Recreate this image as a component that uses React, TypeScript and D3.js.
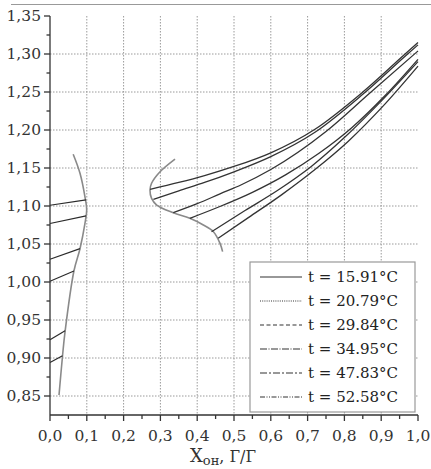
import React from "react";
import * as d3 from "d3";

type P = [number, number];

const legendLabels = ["t = 15.91°C", "t = 20.79°C", "t = 29.84°C", "t = 34.95°C", "t = 47.83°C", "t = 52.58°C"];
const dashes = ["", "1,1.2", "4,2.5", "7,1.5,1,1.5", "7,2,2,2", "5,1.5,1,1.5,1,1.5"];

// left binodal branch (x, y)
const leftBinodal: P[] = [
  [0.0245, 0.8513], [0.034, 0.9026], [0.041, 0.935], [0.065, 1.0145], [0.0815, 1.0438],
  [0.095, 1.0772], [0.0997, 1.0947], [0.095, 1.112], [0.0815, 1.143], [0.063, 1.168],
];
// middle binodal branch
const midBinodal: P[] = [
  [0.3397, 1.1618], [0.299, 1.1451], [0.276, 1.1299], [0.2717, 1.121], [0.276, 1.11],
  [0.29, 1.1013], [0.335, 1.0912], [0.38, 1.0838], [0.4167, 1.075], [0.444, 1.0662],
  [0.462, 1.0509], [0.469, 1.04],
];
// tie lines on the left (x=0 to left branch)
const leftTies: P[][] = [
  [[0, 1.101], [0.098, 1.108]],
  [[0, 1.077], [0.098, 1.087]],
  [[0, 1.030], [0.0815, 1.044]],
  [[0, 1.001], [0.065, 1.0145]],
  [[0, 0.924], [0.041, 0.936]],
  [[0, 0.894], [0.034, 0.903]],
];
// curves from middle branch to x=1
const series1: P[] = [[0.272, 1.122], [0.35, 1.131], [0.42, 1.140], [0.5, 1.152], [0.6, 1.170], [0.72, 1.201], [0.85, 1.250], [0.965, 1.300], [1.0, 1.315]];
const series2: P[] = [[0.281, 1.1088], [0.35, 1.120], [0.42, 1.131], [0.5, 1.145], [0.6, 1.165], [0.72, 1.197], [0.85, 1.247], [0.965, 1.297], [1.0, 1.312]];
const series3: P[] = [[0.335, 1.0912], [0.4, 1.103], [0.462, 1.116], [0.52, 1.128], [0.6, 1.148], [0.75, 1.198], [0.87, 1.249], [1.0, 1.304]];
const series4: P[] = [[0.38, 1.0838], [0.46, 1.099], [0.55, 1.118], [0.64, 1.141], [0.73, 1.169], [0.82, 1.203], [0.91, 1.245], [1.0, 1.293]];
const series5: P[] = [[0.439, 1.0662], [0.53, 1.094], [0.62, 1.121], [0.71, 1.152], [0.80, 1.190], [0.90, 1.238], [1.0, 1.290]];
const series6: P[] = [[0.457, 1.0575], [0.54, 1.085], [0.63, 1.115], [0.72, 1.148], [0.81, 1.185], [0.91, 1.234], [1.0, 1.284]];
const rightCurves = [series1, series2, series3, series4, series5, series6];

const xTicks = [0, 0.1, 0.2, 0.3, 0.4, 0.5, 0.6, 0.7, 0.8, 0.9, 1.0];
const yTicks = [0.85, 0.9, 0.95, 1.0, 1.05, 1.1, 1.15, 1.2, 1.25, 1.3, 1.35];

const W = 431, H = 469;
const FONT = "'DejaVu Serif', serif";

export default function App() {
  const x = d3.scaleLinear().domain([0, 1]).range([50, 418]);
  const y = d3.scaleLinear().domain([0.825, 1.35]).range([415, 16]);

  const lineX = d3.line<P>().x((d) => x(d[0])).y((d) => y(d[1])).curve(d3.curveMonotoneX);
  const lineY = d3.line<P>().x((d) => x(d[0])).y((d) => y(d[1])).curve(d3.curveCatmullRom.alpha(0.5));
  const straight = d3.line<P>().x((d) => x(d[0])).y((d) => y(d[1]));

  const fx = (v: number) => d3.format(".1f")(v).replace(".", ",");
  const fy = (v: number) => d3.format(".2f")(v).replace(".", ",");

  const xMinor = d3.range(0.05, 1, 0.1);
  const yMinor = d3.range(0.875, 1.35, 0.05);

  return (
    <svg width={W} height={H} style={{ position: "absolute", left: 0, top: 0, background: "#fff" }}>
      {/* top rule */}
      <line x1={11} x2={W} y1={4.5} y2={4.5} stroke="#999" strokeWidth={1.2} />

      {/* grid */}
      <g stroke="#9a9a9a" strokeWidth={1} strokeDasharray="1.5,1.5">
        {xTicks.slice(1, 10).map((t) => (
          <line key={"gx" + t} x1={x(t)} x2={x(t)} y1={y(1.35)} y2={y(0.825)} />
        ))}
        {yTicks.slice(0, 10).map((t) => (
          <line key={"gy" + t} x1={x(0)} x2={x(1)} y1={y(t)} y2={y(t)} />
        ))}
      </g>

      {/* binodal branches */}
      <path d={lineY(leftBinodal) || ""} fill="none" stroke="#8a8a8a" strokeWidth={1.6} />
      <path d={lineY(midBinodal) || ""} fill="none" stroke="#8a8a8a" strokeWidth={1.6} />

      {/* tie lines left */}
      {leftTies.map((seg, i) => (
        <path key={"lt" + i} d={straight(seg) || ""} fill="none" stroke="#2a2a2a" strokeWidth={1.2} />
      ))}
      {/* right curves */}
      {rightCurves.map((s, i) => (
        <path key={"rc" + i} d={lineX(s) || ""} fill="none" stroke="#333" strokeWidth={1.3} />
      ))}

      {/* axes */}
      <g stroke="#333" strokeWidth={1.3}>
        <line x1={x(0)} x2={x(0)} y1={y(1.35)} y2={y(0.825)} />
        <line x1={x(0)} x2={x(1)} y1={y(0.825)} y2={y(0.825)} />
        {xTicks.map((t) => (
          <line key={"xt" + t} x1={x(t)} x2={x(t)} y1={y(0.825)} y2={y(0.825) + 6} />
        ))}
        {xMinor.map((t) => (
          <line key={"xm" + t} x1={x(t)} x2={x(t)} y1={y(0.825)} y2={y(0.825) + 4} />
        ))}
        {yTicks.map((t) => (
          <line key={"yt" + t} x1={x(0) - 6} x2={x(0)} y1={y(t)} y2={y(t)} />
        ))}
        {yMinor.map((t) => (
          <line key={"ym" + t} x1={x(0) - 3.5} x2={x(0)} y1={y(t)} y2={y(t)} />
        ))}
      </g>

      {/* tick labels */}
      <g fontFamily={FONT} fontSize={15.5} fill="#333">
        {xTicks.map((t) => (
          <text key={"xl" + t} x={x(t)} y={441} textAnchor="middle">{fx(t)}</text>
        ))}
        {yTicks.map((t) => (
          <text key={"yl" + t} x={41} y={y(t) + 5} textAnchor="end">{fy(t)}</text>
        ))}
      </g>

      {/* axis title */}
      <text x={190} y={462} fontFamily={FONT} fill="#333">
        <tspan fontSize={18}>X</tspan>
        <tspan fontSize={13} dy={3}>он</tspan>
        <tspan fontSize={16} dy={-3}>, Г/Г</tspan>
      </text>

      {/* legend */}
      <rect x={250} y={262} width={165} height={150} fill="#fff" stroke="#999" strokeWidth={1.2} />
      {legendLabels.map((lab, i) => {
        const yy = 277 + i * 24;
        return (
          <g key={"lg" + i}>
            <line x1={260} x2={302} y1={yy} y2={yy} stroke="#333" strokeWidth={1.2} strokeDasharray={dashes[i] || undefined} />
            <text x={308} y={yy + 5} fontFamily={FONT} fontSize={15} fill="#222">{lab}</text>
          </g>
        );
      })}
    </svg>
  );
}
